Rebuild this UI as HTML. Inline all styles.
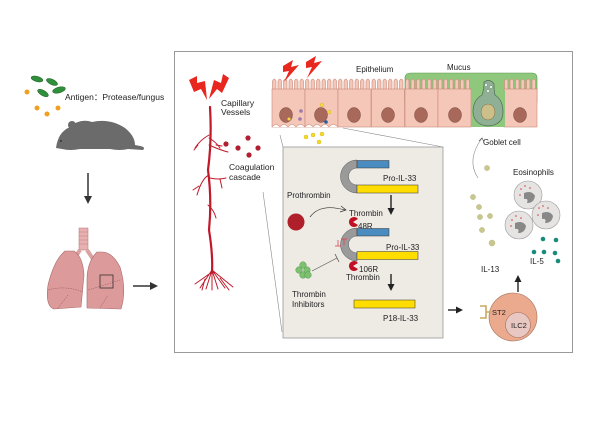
<!DOCTYPE html>
<html><head><meta charset="utf-8"><style>
html,body{margin:0;padding:0;background:#fff;}
svg{display:block;font-family:"Liberation Sans",Arial,sans-serif;}
</style></head><body>
<svg width="600" height="424" viewBox="0 0 600 424" xmlns="http://www.w3.org/2000/svg">
<defs>
<g id="cell">
  <path d="M0.5,91 L0.5,81 Q2.25,77 4,81 L4,91 M6,91 L6,81 Q7.75,77 9.5,81 L9.5,91 M11.5,91 L11.5,81 Q13.25,77 15,81 L15,91 M17,91 L17,81 Q18.75,77 20.5,81 L20.5,91 M22.5,91 L22.5,81 Q24.25,77 26,81 L26,91 M28,91 L28,81 Q29.75,77 31.5,81 L31.5,91" fill="#f4c7b8" stroke="#c9897a" stroke-width="0.6"/>
  <rect x="0" y="89" width="33" height="38" fill="#f4c7b8" stroke="#c9897a" stroke-width="0.6"/>
</g>
<g id="nuc"><ellipse cx="0" cy="0" rx="6.5" ry="7.5" fill="#a8695a" stroke="#7a4a3e" stroke-width="0.5"/></g>
</defs>

<g fill="#2f8f3a" stroke="#1d5e26" stroke-width="0.5">
<ellipse cx="37" cy="79" rx="6" ry="2.6" transform="rotate(15 37 79)"/>
<ellipse cx="52" cy="82" rx="6" ry="2.6" transform="rotate(25 52 82)"/>
<ellipse cx="43" cy="93" rx="6" ry="2.6" transform="rotate(30 43 93)"/>
<ellipse cx="59" cy="90" rx="6.5" ry="2.8" transform="rotate(-15 59 90)"/>
</g>
<g fill="#f0a020"><circle cx="27" cy="92" r="2.5"/><circle cx="37" cy="108" r="2.5"/><circle cx="47" cy="114" r="2.5"/><circle cx="58" cy="108" r="2.5"/></g>
<text x="65" y="100" font-size="8.5" fill="#222">Antigen：Protease/fungus</text>

<g fill="#6b6b6b">
<path d="M56,148 Q58,132 70,127 Q80,118 92,122 Q110,118 125,128 Q135,136 135,145 L140,146 Q146,147 143,150 L128,149 Q120,151 110,149 L80,149 Q70,151 62,149 Z"/>
<circle cx="72" cy="125" r="4"/>
<circle cx="61" cy="141" r="1" fill="#333"/>
</g>

<line x1="88" y1="173" x2="88" y2="197" stroke="#333" stroke-width="1.5"/>
<polygon points="84,196 92,196 88,204" fill="#333"/>

<rect x="79" y="228" width="9" height="22" fill="#e8b0b0" stroke="#b07575" stroke-width="0.5"/>
<g stroke="#b07575" stroke-width="0.4"><line x1="79" y1="232" x2="88" y2="232"/><line x1="79" y1="236" x2="88" y2="236"/><line x1="79" y1="240" x2="88" y2="240"/><line x1="79" y1="244" x2="88" y2="244"/></g>
<path d="M80,250 L72,262 M87,250 L95,262" stroke="#dca2a2" stroke-width="4" fill="none"/>
<path d="M65,251 Q54,260 48,285 Q45,306 54,309 L81,307 L84,275 Q83,257 74,251 Z" fill="#dd9a9a" stroke="#a86a6a" stroke-width="0.6"/>
<path d="M97,252 Q87,262 87,280 L87,308 L121,309 Q127,290 120,267 Q113,253 103,252 Z" fill="#dd9a9a" stroke="#a86a6a" stroke-width="0.6"/>
<g fill="none" stroke="#8a5555" stroke-width="0.5" stroke-dasharray="1.5,1"><path d="M48,290 Q65,285 83,292"/><path d="M88,290 Q105,285 120,280"/><path d="M58,308 L68,295"/><path d="M100,308 L108,295"/></g>
<rect x="100" y="275" width="13" height="13" fill="none" stroke="#333" stroke-width="0.8"/>
<line x1="133" y1="286" x2="151" y2="286" stroke="#333" stroke-width="1.5"/>
<polygon points="150,282 158,286 150,290" fill="#333"/>

<rect x="174.5" y="51.5" width="398" height="301" fill="#fff" stroke="#999" stroke-width="1"/>

<g stroke="#c0192a" fill="none" stroke-linecap="round">
<path d="M210,107 Q212,140 208,170 Q212,200 209,230 Q213,255 212,272" stroke-width="2.2"/>
<g stroke-width="1">
<path d="M209,135 Q200,140 195,148 M198,145 L194,150 M209,138 Q216,142 220,148 M216,145 L222,146 M209,145 Q220,150 228,152"/>
<path d="M209,175 Q202,178 197,195 M199,186 L193,190 M210,178 Q218,180 226,178 M220,179 L222,188"/>
<path d="M208,205 Q214,210 216,218"/>
<path d="M212,270 L200,288 M212,270 L206,289 M212,270 L212,290 M212,270 L218,289 M212,270 L225,288 M212,270 L233,287 M205,279 L202,290 M220,278 L229,290 M212,272 L195,284"/>
</g>
</g>
<g fill="#e8271e">
<path d="M189,80 L197,76 L197,83 L205,81 L207,100 L201,89 L194,92 Z"/>
<path d="M229,78 L223,74 L221,83 L214,80 L209,99 L217,89 L222,93 Z"/>
</g>
<text x="221" y="106" font-size="8.5" fill="#222">Capillary</text>
<text x="221" y="115" font-size="8.5" fill="#222">Vessels</text>
<g fill="#b02030"><circle cx="226" cy="144" r="2.6"/><circle cx="238" cy="148" r="2.6"/><circle cx="248" cy="138" r="2.6"/><circle cx="258" cy="148" r="2.6"/><circle cx="249" cy="155" r="2.6"/></g>
<text x="229" y="170" font-size="8.5" fill="#222">Coagulation</text>
<text x="229" y="180" font-size="8.5" fill="#222">cascade</text>

<line x1="280" y1="135" x2="283" y2="147" stroke="#888" stroke-width="0.6"/>
<line x1="343" y1="128" x2="443" y2="147" stroke="#888" stroke-width="0.6"/>
<line x1="263" y1="192" x2="282" y2="332" stroke="#888" stroke-width="0.6"/>

<path d="M405,102 L405,78 Q405,73 411,73 L532,73 Q537,73 537,78 L537,102 Z" fill="#8fc77c" stroke="#5a9a4a" stroke-width="0.6"/>

<use href="#cell" x="272" y="0"/>
<use href="#cell" x="305" y="0"/>
<use href="#cell" x="338" y="0"/>
<use href="#cell" x="371.5" y="0"/>
<use href="#cell" x="405" y="0"/>
<use href="#cell" x="438" y="0"/>
<use href="#cell" x="504" y="0"/>
<path d="M272,127 Q276,122 280,127 Q284,122 288,127 Q292,122 296,127 Q300,122 305,127 Q309,122 313,127 Q317,122 321,127 Q325,122 329,127 Q333,122 338,127" fill="#fff" stroke="#c9897a" stroke-width="0.6"/>
<path d="M471,127 L471,90 L505,90 L505,127 Z" fill="#8fc77c"/>
<path d="M484,82 Q490,78 494,84 Q494,92 495,95 Q503,100 503,112 Q503,125 488,126 Q474,125 473,112 Q473,100 482,95 Q484,90 484,82 Z" fill="#8fb094" stroke="#4f6b55" stroke-width="0.7"/>
<ellipse cx="488" cy="112" rx="7" ry="8" fill="#cdbf8a" stroke="#7a6b45" stroke-width="0.5"/>
<g fill="#fff" stroke="#4f6b55" stroke-width="0.3"><circle cx="486" cy="85" r="1.3"/><circle cx="491" cy="87" r="1.3"/><circle cx="488" cy="91" r="1.3"/></g>
<use href="#nuc" x="286" y="115"/><use href="#nuc" x="321" y="115"/><use href="#nuc" x="354" y="115"/><use href="#nuc" x="388" y="115"/><use href="#nuc" x="421" y="115"/><use href="#nuc" x="455" y="115"/><use href="#nuc" x="520" y="115"/>
<g><circle cx="301" cy="111" r="1.8" fill="#9a7ab0"/><circle cx="300" cy="119" r="1.8" fill="#9a7ab0"/><circle cx="289" cy="119" r="1.5" fill="#f5dc40"/><circle cx="322" cy="105" r="1.8" fill="#f5dc40" stroke="#c9a000" stroke-width="0.3"/><circle cx="329" cy="112" r="1.8" fill="#f5dc40" stroke="#c9a000" stroke-width="0.3"/><circle cx="326" cy="122" r="1.8" fill="#2a5aa0"/></g>
<g fill="#f5dc20" stroke="#c9a000" stroke-width="0.3"><circle cx="306" cy="137" r="2"/><circle cx="313" cy="135" r="2"/><circle cx="322" cy="134" r="2"/><circle cx="319" cy="142" r="2"/></g>
<g fill="#e8271e">
<path d="M283,66 L293,60 L291,67 L299,65 L284,82 L289,71 L283,72 Z"/>
<path d="M306,62 L316,56 L314,63 L322,61 L307,78 L312,67 L306,68 Z"/>
</g>
<text x="356" y="72" font-size="8" fill="#222">Epithelium</text>
<text x="447" y="70" font-size="8" fill="#222">Mucus</text>

<rect x="283" y="147" width="160" height="191" fill="#eeebe5" stroke="#999" stroke-width="0.8"/>

<path d="M357,160 A16.5,16.5 0 0 0 357,193 L357,185 A8.5,8.5 0 0 1 357,168 Z" fill="#9a9a9a" stroke="#555" stroke-width="0.5"/>
<rect x="357" y="160.5" width="32" height="7.5" fill="#4a8cc0" stroke="#333" stroke-width="0.5"/>
<rect x="357" y="185" width="61" height="8" fill="#ffdd00" stroke="#333" stroke-width="0.5"/>
<text x="383" y="181" font-size="8" fill="#222">Pro-IL-33</text>
<line x1="391" y1="195" x2="391" y2="209" stroke="#222" stroke-width="1.4"/>
<polygon points="387.5,208 394.5,208 391,215" fill="#222"/>
<text x="287" y="198" font-size="8" fill="#222">Prothrombin</text>
<circle cx="296" cy="222" r="8.5" fill="#b0202a"/>
<path d="M310,217 Q320,203 345,210" fill="none" stroke="#333" stroke-width="0.7"/>
<path d="M341,206 L346,210 L340,212" fill="none" stroke="#333" stroke-width="0.7"/>
<text x="349" y="216" font-size="8" fill="#222">Thrombin</text>
<path d="M353,222 L358,219 A5,5 0 1 0 358,225 Z" fill="#c01025"/>
<text x="358" y="229" font-size="8" fill="#222">48R</text>

<path d="M357,228 A16.5,16.5 0 0 0 357,261 L357,253 A8.5,8.5 0 0 1 357,236 Z" fill="#9a9a9a" stroke="#555" stroke-width="0.5"/>
<rect x="357" y="228.5" width="32" height="7.5" fill="#4a8cc0" stroke="#333" stroke-width="0.5"/>
<rect x="357" y="251.5" width="61" height="8" fill="#ffdd00" stroke="#333" stroke-width="0.5"/>
<text x="386" y="250" font-size="8" fill="#222">Pro-IL-33</text>
<g stroke="#e04050" stroke-width="0.8"><line x1="338" y1="246" x2="338" y2="240"/><line x1="335" y1="246" x2="341" y2="246"/><line x1="344" y1="239" x2="344" y2="245"/><line x1="341" y1="239" x2="347" y2="239"/></g>
<path d="M353,266 L358,263 A5,5 0 1 0 358,269 Z" fill="#c01025"/>
<text x="359" y="272" font-size="8" fill="#222">106R</text>
<text x="346" y="280" font-size="8" fill="#222">Thrombin</text>
<line x1="391" y1="274" x2="391" y2="285" stroke="#222" stroke-width="1.4"/>
<polygon points="387.5,284 394.5,284 391,291" fill="#222"/>

<g fill="#7cc070" stroke="#4a8a44" stroke-width="0.4"><circle cx="303" cy="265" r="3.3"/><circle cx="299" cy="270" r="3.3"/><circle cx="307" cy="270" r="3.3"/><circle cx="303" cy="275" r="3.3"/><circle cx="308" cy="275" r="3.3"/></g>
<line x1="312" y1="271" x2="337" y2="258" stroke="#555" stroke-width="0.7"/>
<line x1="335" y1="254" x2="339" y2="262" stroke="#555" stroke-width="0.8"/>
<text x="292" y="297" font-size="8" fill="#222">Thrombin</text>
<text x="292" y="307" font-size="8" fill="#222">Inhibitors</text>

<rect x="354" y="300" width="61" height="8" fill="#ffdd00" stroke="#333" stroke-width="0.5"/>
<text x="383" y="321" font-size="8" fill="#222">P18-IL-33</text>

<line x1="448" y1="310" x2="457" y2="310" stroke="#222" stroke-width="1.4"/>
<polygon points="456,306.5 463,310 456,313.5" fill="#222"/>
<circle cx="513" cy="317" r="24" fill="#eba98e" stroke="#a0705a" stroke-width="0.6"/>
<circle cx="518" cy="325" r="12.5" fill="#e9c8c4" stroke="#a0705a" stroke-width="0.6"/>
<text x="511" y="328" font-size="7.5" fill="#222">ILC2</text>
<path d="M491,312 L486,312 L486,306 L480,306 M486,312 L486,318 L480,318" fill="none" stroke="#c9a860" stroke-width="1.6"/>
<text x="492" y="315" font-size="7.5" fill="#222">ST2</text>
<line x1="518" y1="292" x2="518" y2="281" stroke="#222" stroke-width="1.4"/>
<polygon points="514.5,282 521.5,282 518,275" fill="#222"/>
<text x="481" y="272" font-size="8" fill="#222">IL-13</text>
<text x="530" y="264" font-size="8" fill="#222">IL-5</text>
<g fill="#c8c88c" stroke="#9a9a60" stroke-width="0.3"><circle cx="487" cy="168" r="2.6"/><circle cx="473" cy="197" r="2.6"/><circle cx="479" cy="207" r="2.6"/><circle cx="490" cy="216" r="2.6"/><circle cx="480" cy="217" r="2.6"/><circle cx="482" cy="230" r="2.6"/><circle cx="492" cy="243" r="3"/></g>
<g fill="#1a8a7a"><circle cx="543" cy="239" r="2.3"/><circle cx="556" cy="240" r="2.3"/><circle cx="534" cy="252" r="2.3"/><circle cx="544" cy="252" r="2.3"/><circle cx="555" cy="253" r="2.3"/><circle cx="558" cy="261" r="2.3"/></g>
<text x="513" y="175" font-size="8" fill="#222">Eosinophils</text>
<g>
<circle cx="528" cy="195" r="14" fill="#e6e3e3" stroke="#999" stroke-width="0.6"/>
<circle cx="519" cy="225" r="14" fill="#e6e3e3" stroke="#999" stroke-width="0.6"/>
<circle cx="546" cy="215" r="14" fill="#e6e3e3" stroke="#999" stroke-width="0.6"/>
<path d="M524,193 Q532,190 535,196 Q534,203 527,203 Q529,198 524,199 Z" fill="#888"/>
<path d="M515,223 Q523,220 526,226 Q525,233 518,233 Q520,228 515,229 Z" fill="#888"/>
<path d="M542,213 Q550,210 553,216 Q552,223 545,223 Q547,218 542,219 Z" fill="#888"/>
<g fill="#d04040"><circle cx="521" cy="189" r="0.8"/><circle cx="525" cy="186" r="0.8"/><circle cx="530" cy="188" r="0.8"/><circle cx="520" cy="195" r="0.8"/><circle cx="512" cy="220" r="0.8"/><circle cx="516" cy="216" r="0.8"/><circle cx="521" cy="218" r="0.8"/><circle cx="511" cy="226" r="0.8"/><circle cx="539" cy="208" r="0.8"/><circle cx="543" cy="206" r="0.8"/><circle cx="548" cy="208" r="0.8"/><circle cx="538" cy="215" r="0.8"/></g>
</g>
<path d="M478,178 Q466,160 482,138" fill="none" stroke="#888" stroke-width="0.6"/>
<path d="M479,141 L482,138 L484,142" fill="none" stroke="#444" stroke-width="0.6"/>
<text x="483" y="145" font-size="8" fill="#222">Goblet cell</text>
</svg>
</body></html>
